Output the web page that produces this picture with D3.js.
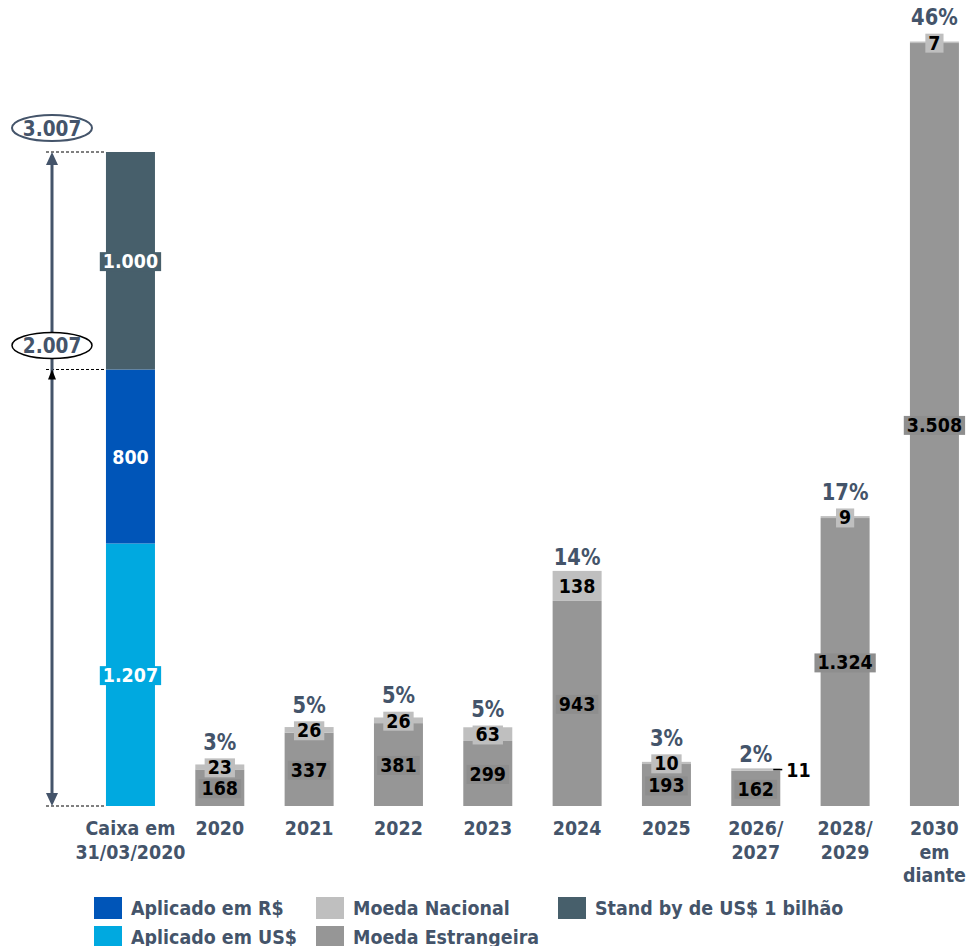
<!DOCTYPE html>
<html><head><meta charset="utf-8">
<script src="https://cdn.jsdelivr.net/npm/d3@7"></script>
<style>html,body{margin:0;padding:0;background:#fff;}svg{display:block;}</style>
</head><body>
<svg id="chart" width="974" height="946"></svg>
<script>
// ---- data ----
const categories = ["Caixa em\n31/03/2020","2020","2021","2022","2023","2024","2025","2026/\n2027","2028/\n2029","2030\nem\ndiante"];
const caixaSeries = ["Aplicado em US$","Aplicado em R$","Stand by de US$ 1 bilhão"];
const caixaValues = [1207, 800, 1000];
const debtCategories = categories.slice(1);
const moedaEstrangeira = [168, 337, 381, 299, 943, 193, 162, 1324, 3508];
const moedaNacional = [23, 26, 26, 63, 138, 10, 11, 9, 7];
const percentLabels = ["3%","5%","5%","5%","14%","3%","2%","17%","46%"];
const outsideLabelCats = ["2026/\n2027"];
const levelLabels = [2007, 3007];
const legendRows = [["Aplicado em R$","Moeda Nacional","Stand by de US$ 1 bilhão"],["Aplicado em US$","Moeda Estrangeira"]];

// ---- styles ----
const colors = {
  "Aplicado em US$":"#00A9E0",
  "Aplicado em R$":"#0055B8",
  "Stand by de US$ 1 bilhão":"#475F6B",
  "Moeda Nacional":"#BFBFBF",
  "Moeda Estrangeira":"#969696"
};
const labelBox = {"Moeda Estrangeira":"#8E8E8E"};
const slate = "#44546A";
const FONT = "'DejaVu Sans', Verdana, sans-serif";
const SY = 1.15;

const loc = d3.formatLocale({decimal:",", thousands:".", grouping:[3], currency:["R$",""]});
const fmt = loc.format(",");

const svg = d3.select("#chart");
const x = d3.scaleBand().domain(categories).range([85.8, 979.1]).paddingInner(0.4515).paddingOuter(0.4515/2);
const y = d3.scaleLinear().domain([0, 3007]).range([806, 152]);
const bw = x.bandwidth();

function addText(parent, px, py, str, o) {
  const g = parent.append("g").attr("transform", `translate(${px},${py}) scale(1,${SY})`);
  const t = g.append("text").attr("x",0).attr("y",0)
    .attr("text-anchor", o.anchor || "middle")
    .attr("dy", o.dy || "0.36em")
    .attr("font-family", FONT).attr("font-weight","bold")
    .attr("font-size", o.size || 17).attr("fill", o.fill || "#000").text(str);
  if (o.box) {
    const b = t.node().getBBox();
    const padX = 3;
    g.insert("rect","text").attr("x", b.x - padX).attr("y", b.y + 2)
      .attr("width", b.width + 2*padX).attr("height", b.height - 3).attr("fill", o.box);
  }
  return g;
}

// ---- caixa bar ----
const caixaCat = categories[0];
let acc = 0;
const caixaStack = caixaValues.map((v,i)=>{ const s={key:caixaSeries[i], y0:acc, y1:acc+v, v}; acc+=v; return s; });
const gBars = svg.append("g");
gBars.selectAll("rect.caixa").data(caixaStack).join("rect")
  .attr("x", x(caixaCat)).attr("width", bw)
  .attr("y", d=>y(d.y1)).attr("height", d=>y(d.y0)-y(d.y1))
  .attr("fill", d=>colors[d.key]);

// ---- debt bars ----
const debt = debtCategories.map((c,i)=>({cat:c, e:moedaEstrangeira[i], n:moedaNacional[i], p:percentLabels[i]}));
debt.forEach(d=>{
  gBars.append("rect").attr("x", x(d.cat)).attr("width", bw)
    .attr("y", y(d.e)).attr("height", y(0)-y(d.e)).attr("fill", colors["Moeda Estrangeira"]);
  gBars.append("rect").attr("x", x(d.cat)).attr("width", bw)
    .attr("y", y(d.e+d.n)).attr("height", y(d.e)-y(d.e+d.n)).attr("fill", colors["Moeda Nacional"]);
});

// ---- labels ----
const gLab = svg.append("g");
caixaStack.forEach(s=>{
  addText(gLab, x(caixaCat)+bw/2, y((s.y0+s.y1)/2), fmt(s.v), {fill:"#fff", box:colors[s.key], size:17.5});
});
debt.forEach(d=>{
  const cx = x(d.cat)+bw/2;
  addText(gLab, cx, y(d.e/2), fmt(d.e), {fill:"#000", box:labelBox["Moeda Estrangeira"], size:17.5});
  const top = y(d.e+d.n);
  let labTop = top;
  if (outsideLabelCats.includes(d.cat)) {
    const yy = y(d.e + d.n/2);
    gLab.append("line").attr("x1", x(d.cat)+bw-7).attr("x2", x(d.cat)+bw+2)
      .attr("y1", yy).attr("y2", yy).attr("stroke","#000").attr("stroke-width",1.5);
    addText(gLab, x(d.cat)+bw+6, yy, fmt(d.n), {fill:"#000", anchor:"start", size:17.5});
  } else {
    const cy = y(d.e + d.n/2);
    addText(gLab, cx, cy, fmt(d.n), {fill:"#000", box:colors["Moeda Nacional"], size:17.5});
    labTop = Math.min(top, cy - 11);
  }
  addText(gLab, cx, labTop - 6, d.p, {fill:slate, size:19.5, dy:"0em"});
});

// ---- category axis labels ----
categories.forEach(c=>{
  const lines = c.split("\n");
  lines.forEach((ln,i)=>{
    addText(svg, x(c)+bw/2, 828 + i*23.5, ln, {fill:slate, size:17.5});
  });
});

// ---- left annotation ----
const ax = 52;
const gA = svg.append("g");
[0, levelLabels[0], levelLabels[1]].forEach(v=>{
  gA.append("line").attr("x1", ax-6).attr("x2", x(caixaCat)).attr("y1", y(v)).attr("y2", y(v))
    .attr("stroke","#000").attr("stroke-width",1).attr("stroke-dasharray","3,2");
});
gA.append("line").attr("x1",ax).attr("x2",ax).attr("y1",y(levelLabels[1])+8).attr("y2",y(0)-8)
  .attr("stroke",slate).attr("stroke-width",3);
function tri(tipY, dir, w, h, fill){
  gA.append("path").attr("d", `M${ax},${tipY} L${ax-w/2},${tipY+dir*h} L${ax+w/2},${tipY+dir*h} Z`).attr("fill", fill);
}
tri(y(levelLabels[1]), 1, 12, 13, slate);
tri(y(0), -1, 12, 13, slate);
tri(y(levelLabels[0]), 1, 8, 10, "#000");
[[levelLabels[1], slate, 2],[levelLabels[0], "#000", 1.5]].forEach(([v,stroke,sw])=>{
  const cy = y(v) - 24;
  gA.append("ellipse").attr("cx", ax).attr("cy", cy).attr("rx", 40).attr("ry", 13)
    .attr("fill","#fff").attr("stroke",stroke).attr("stroke-width",sw);
  addText(gA, ax, cy, fmt(v), {fill:slate, size:18.5});
});

// ---- legend ----
const legX = [94, 316, 558];
const legY = [908, 937];
legendRows.forEach((row,ri)=>{
  row.forEach((name,ci)=>{
    svg.append("rect").attr("x", legX[ci]).attr("y", legY[ri]-11).attr("width",28).attr("height",22).attr("fill", colors[name]);
    addText(svg, legX[ci]+37, legY[ri], name, {fill:slate, size:17.5, anchor:"start"});
  });
});
</script>
</body></html>
